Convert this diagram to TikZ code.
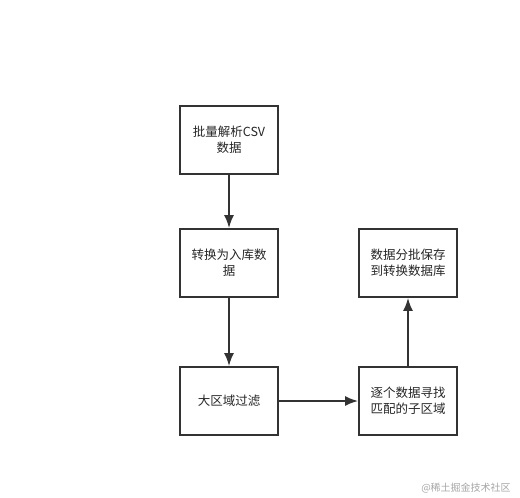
\documentclass[tikz,border=0pt]{standalone}
\usepackage{fontspec}
\setmainfont{Noto Sans CJK SC}
\usetikzlibrary{arrows}
\usetikzlibrary{arrows.meta}
\begin{document}
\begin{tikzpicture}[x=1pt,y=-1pt]
% Styles
\tikzstyle{etape}=[draw=black!80,line width=1.8pt,minimum width=98pt,minimum height=68pt,align=center,font=\fontsize{12.5}{16}\selectfont,text=black!85]
\tikzstyle{fleche}=[-{Latex[length=13pt,width=10pt]},line width=1.8pt,draw=black!80]
\tikzstyle{marque}=[text=black!35,font=\fontsize{10}{12}\selectfont]
% Dimensions
\def\colA{229}
\def\colB{408}
\def\ligA{140}
\def\ligB{263}
\def\ligC{401}
\useasboundingbox (0,0) rectangle (520,498);
% Etapes
\node[etape] (csv) at (\colA,\ligA) {批量解析CSV\\数据};
\node[etape] (conv) at (\colA,\ligB) {转换为入库数\\据};
\node[etape] (filtre) at (\colA,\ligC) {大区域过滤};
\node[etape] (match) at (\colB,\ligC) {逐个数据寻找\\匹配的子区域};
\node[etape] (save) at (\colB,\ligB) {数据分批保存\\到转换数据库};
% Flèches
\draw[fleche] (csv) -- (conv);
\draw[fleche] (conv) -- (filtre);
\draw[fleche] (filtre) -- (match);
\draw[fleche] (match) -- (save);
% Filigrane
\node[marque] (wm) at (466,488) {@稀土掘金技术社区};
\end{tikzpicture}
\end{document}
